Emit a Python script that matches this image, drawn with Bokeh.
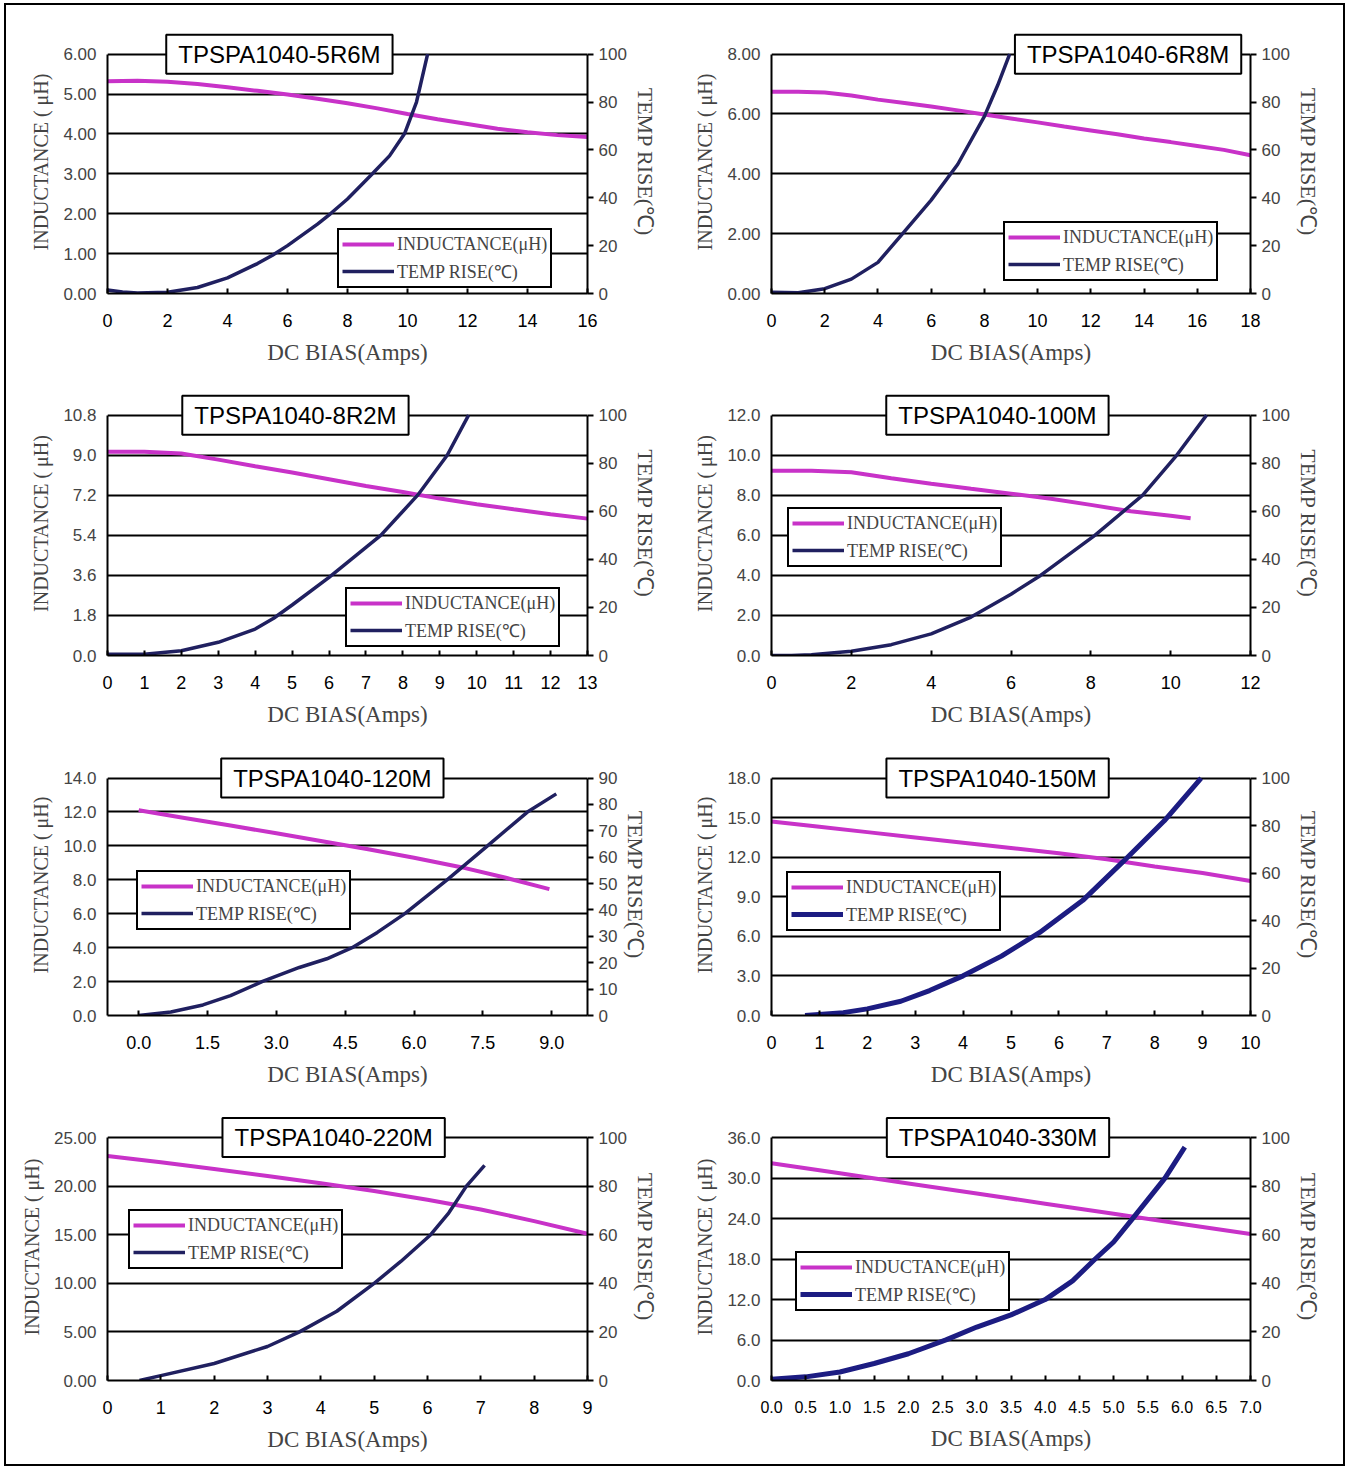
from bokeh.plotting import figure
from bokeh.models import (Range1d, LinearAxis, FixedTicker, PrintfTickFormatter,
                          Label, Legend, LegendItem)
from bokeh.layouts import gridplot, column
from bokeh.embed import file_html
from bokeh.resources import INLINE

# ---------------- data ----------------
part_names = ["TPSPA1040-5R6M", "TPSPA1040-6R8M", "TPSPA1040-8R2M", "TPSPA1040-100M",
              "TPSPA1040-120M", "TPSPA1040-150M", "TPSPA1040-220M", "TPSPA1040-330M"]

# 5R6M
p1_x_ticks = [0, 2, 4, 6, 8, 10, 12, 14, 16]
p1_l_ticks = [0, 1, 2, 3, 4, 5, 6]
p1_t_ticks = [0, 20, 40, 60, 80, 100]
p1_ind_x = [0, 1, 2, 3, 4, 5, 6, 7, 8, 9, 10, 11, 12, 13, 14, 15, 16]
p1_ind = [5.32, 5.33, 5.31, 5.25, 5.17, 5.08, 4.99, 4.88, 4.77, 4.64, 4.50, 4.37, 4.25, 4.13, 4.04, 3.97, 3.92]
p1_temp_x = [0, 0.5, 1, 2, 3, 4, 5, 5.5, 6, 7, 7.43, 8, 8.83, 9.4, 9.9, 10.3, 10.67]
p1_temp = [1.5, 0.6, 0.2, 0.5, 2.5, 6.5, 12.5, 16, 20, 29, 33.3, 39.5, 50, 57.5, 66.7, 80, 100]

# 6R8M
p2_x_ticks = [0, 2, 4, 6, 8, 10, 12, 14, 16, 18]
p2_l_ticks = [0, 2, 4, 6, 8]
p2_t_ticks = [0, 20, 40, 60, 80, 100]
p2_ind_x = [0, 1, 2, 3, 4, 5, 6, 7, 8, 9, 10, 11, 12, 13, 14, 15, 16, 17, 18]
p2_ind = [6.74, 6.74, 6.72, 6.62, 6.48, 6.37, 6.25, 6.12, 5.98, 5.85, 5.72, 5.58, 5.45, 5.32, 5.18, 5.06, 4.93, 4.80, 4.62]
p2_temp_x = [0, 1, 2, 3, 4, 5, 6, 7, 8, 8.5, 8.95]
p2_temp = [0.5, 0.3, 2, 6, 13, 26, 39, 54, 74, 87, 100]

# 8R2M
p3_x_ticks = [0, 1, 2, 3, 4, 5, 6, 7, 8, 9, 10, 11, 12, 13]
p3_l_ticks = [0, 1.8, 3.6, 5.4, 7.2, 9.0, 10.8]
p3_t_ticks = [0, 20, 40, 60, 80, 100]
p3_ind_x = [0, 1, 2, 3, 4, 5, 6, 7, 8, 9, 10, 11, 12, 13]
p3_ind = [9.15, 9.15, 9.08, 8.80, 8.50, 8.22, 7.92, 7.62, 7.35, 7.05, 6.80, 6.57, 6.35, 6.15]
p3_temp_x = [0, 1, 2, 3, 4, 4.5, 5, 6, 7, 7.4, 8, 8.4, 9.2, 9.78]
p3_temp = [0.5, 0.5, 2, 5.5, 11, 15.5, 21, 32.5, 45, 50, 60, 66.7, 83.3, 100]

# 100M
p4_x_ticks = [0, 2, 4, 6, 8, 10, 12]
p4_l_ticks = [0, 2, 4, 6, 8, 10, 12]
p4_t_ticks = [0, 20, 40, 60, 80, 100]
p4_ind_x = [0, 1, 2, 3, 4, 5, 6, 7, 8, 9, 10, 10.5]
p4_ind = [9.22, 9.22, 9.15, 8.85, 8.57, 8.32, 8.08, 7.83, 7.52, 7.20, 6.98, 6.85]
p4_temp_x = [0, 0.5, 1, 2, 3, 4, 5, 6, 6.74, 8.1, 9.3, 10.15, 10.9]
p4_temp = [0, 0, 0.3, 1.8, 4.5, 9, 16, 25.5, 33.3, 50, 66.7, 83.3, 100]

# 120M
p5_x_ticks = [0, 1.5, 3.0, 4.5, 6.0, 7.5, 9.0]
p5_l_ticks = [0, 2, 4, 6, 8, 10, 12, 14]
p5_t_ticks = [0, 10, 20, 30, 40, 50, 60, 70, 80, 90]
p5_ind_x = [0, 1, 2, 3, 4, 5, 6, 7, 8, 8.95]
p5_ind = [12.1, 11.65, 11.2, 10.74, 10.27, 9.8, 9.3, 8.76, 8.12, 7.45]
p5_temp_x = [0, 0.7, 1.4, 2.0, 2.7, 3.5, 4.1, 4.65, 5.2, 5.8, 6.72, 7.6, 8.47, 9.1]
p5_temp = [0, 1.3, 4.0, 7.5, 12.9, 18.2, 21.5, 25.7, 31.5, 38.6, 51.4, 64.3, 77.1, 84]

# 150M
p6_x_ticks = [0, 1, 2, 3, 4, 5, 6, 7, 8, 9, 10]
p6_l_ticks = [0, 3, 6, 9, 12, 15, 18]
p6_t_ticks = [0, 20, 40, 60, 80, 100]
p6_ind_x = [0, 1, 2, 3, 4, 5, 6, 7, 8, 9, 10]
p6_ind = [14.7, 14.3, 13.9, 13.5, 13.1, 12.7, 12.3, 11.85, 11.3, 10.8, 10.2]
p6_temp_x = [0.7, 1.5, 2.0, 2.7, 3.3, 4.0, 4.8, 5.6, 6.5, 7.35, 8.2, 8.97]
p6_temp = [0, 1.2, 2.8, 6, 10.5, 16.7, 25, 35, 48.5, 65, 82, 100]

# 220M
p7_x_ticks = [0, 1, 2, 3, 4, 5, 6, 7, 8, 9]
p7_l_ticks = [0, 5, 10, 15, 20, 25]
p7_t_ticks = [0, 20, 40, 60, 80, 100]
p7_ind_x = [0, 1, 2, 3, 4, 5, 6, 7, 8, 9]
p7_ind = [23.1, 22.45, 21.75, 21.05, 20.3, 19.5, 18.6, 17.6, 16.4, 15.1]
p7_temp_x = [0.6, 1.0, 2.0, 3.0, 3.6, 4.3, 5.0, 5.5, 6.06, 6.4, 6.73, 7.07]
p7_temp = [0, 2, 7, 14, 20, 28.5, 40, 49, 60, 69, 80, 88.5]

# 330M
p8_x_ticks = [0, 0.5, 1.0, 1.5, 2.0, 2.5, 3.0, 3.5, 4.0, 4.5, 5.0, 5.5, 6.0, 6.5, 7.0]
p8_l_ticks = [0, 6, 12, 18, 24, 30, 36]
p8_t_ticks = [0, 20, 40, 60, 80, 100]
p8_ind_x = [0, 1, 2, 3, 4, 5, 6, 7]
p8_ind = [32.2, 30.7, 29.2, 27.7, 26.2, 24.7, 23.2, 21.7]
p8_temp_x = [0, 0.5, 1.0, 1.5, 2.0, 2.55, 3.0, 3.5, 4.0, 4.4, 4.73, 5.0, 5.28, 5.75, 6.04]
p8_temp = [0.5, 1.5, 3.5, 7, 11, 16.7, 22, 27, 33.3, 41, 50, 57, 66.7, 83.3, 96]

series = [
    (p1_x_ticks, p1_l_ticks, p1_t_ticks, p1_ind_x, p1_ind, p1_temp_x, p1_temp),
    (p2_x_ticks, p2_l_ticks, p2_t_ticks, p2_ind_x, p2_ind, p2_temp_x, p2_temp),
    (p3_x_ticks, p3_l_ticks, p3_t_ticks, p3_ind_x, p3_ind, p3_temp_x, p3_temp),
    (p4_x_ticks, p4_l_ticks, p4_t_ticks, p4_ind_x, p4_ind, p4_temp_x, p4_temp),
    (p5_x_ticks, p5_l_ticks, p5_t_ticks, p5_ind_x, p5_ind, p5_temp_x, p5_temp),
    (p6_x_ticks, p6_l_ticks, p6_t_ticks, p6_ind_x, p6_ind, p6_temp_x, p6_temp),
    (p7_x_ticks, p7_l_ticks, p7_t_ticks, p7_ind_x, p7_ind, p7_temp_x, p7_temp),
    (p8_x_ticks, p8_l_ticks, p8_t_ticks, p8_ind_x, p8_ind, p8_temp_x, p8_temp),
]

# ---------------- layout / style config ----------------
x_ranges = [(0, 16), (0, 18), (0, 13), (0, 12), (-0.68, 9.78), (0, 10), (0, 9), (0, 7)]
x_fmt = ["%d", "%d", "%d", "%d", "%.1f", "%d", "%d", "%.1f"]
l_fmt = ["%.2f", "%.2f", "%.1f", "%.1f", "%.1f", "%.1f", "%.2f", "%.1f"]
title_x = [5.73, 13.4, 5.09, 5.66, 4.22, 4.72, 4.24, 3.31]
legend_loc = [(230, 5), (232, 12), (238, 8), (16, 88), (29, 85), (15, 84), (21, 111), (24, 69)]
row_h = [362, 362, 360, 375]
row_top = [49, 48, 49, 48]          # distance from figure top to the top grid line
col_w = [664, 673]
col_left = [101, 101]
col_right = [83, 93]
frame_h = [243, 244, 242, 243]      # height of the 0..max area
EXT = 24                            # extra frame space above the top line for the title box
navy = ["#202060", "#202060", "#202060", "#202060", "#202060", "#1c1c82", "#202060", "#1c1c82"]
navy_w = [3.5, 3.5, 3.5, 3.5, 3.5, 5, 3.5, 5]

MAGENTA = "#C832C8"
TICK_FONT = "Liberation Sans"
SERIF = "Liberation Serif"

figs = []
for i in range(8):
    r, c = divmod(i, 2)
    xt, lt, tt, ix, iv, tx, tv = series[i]
    w = col_w[c]
    h = row_h[r]
    fac = (frame_h[r] + EXT) / frame_h[r]
    p = figure(width=w, height=h, output_backend="svg", toolbar_location=None, tools="",
               x_range=Range1d(*x_ranges[i]), y_range=Range1d(lt[0], lt[-1] * fac),
               min_border_left=col_left[c], min_border_right=col_right[c],
               min_border_top=row_top[r] - EXT, min_border_bottom=h - row_top[r] - frame_h[r])
    p.extra_y_ranges = {"t": Range1d(tt[0], tt[-1] * fac)}
    p.outline_line_color = None
    p.background_fill_color = "white"
    p.border_fill_color = "white"

    # grid
    p.xgrid.visible = False
    p.ygrid.ticker = FixedTicker(ticks=lt)
    p.ygrid.grid_line_color = "black"
    p.ygrid.grid_line_width = 2

    # x axis
    xa = p.xaxis[0]
    xa.ticker = FixedTicker(ticks=xt)
    xa.formatter = PrintfTickFormatter(format=x_fmt[i])
    xa.axis_label = "DC BIAS(Amps)"
    xa.axis_label_text_font = SERIF
    xa.axis_label_text_font_style = "normal"
    xa.axis_label_text_font_size = "23px"
    xa.axis_label_standoff = 10
    xa.major_label_text_font = TICK_FONT
    xa.major_label_text_font_size = "16px" if i == 7 else "18px"
    xa.major_label_standoff = 20
    xa.major_tick_in = 5
    xa.major_tick_out = 0
    xa.minor_tick_line_color = None
    xa.axis_line_width = 2
    xa.major_tick_line_width = 2
    xa.axis_line_color = "black"
    xa.major_label_text_color = "black"

    # left axis
    ya = p.yaxis[0]
    ya.ticker = FixedTicker(ticks=lt)
    ya.bounds = (lt[0], lt[-1])
    ya.formatter = PrintfTickFormatter(format=l_fmt[i])
    ya.axis_label = "INDUCTANCE ( μH)"
    ya.axis_label_text_font = SERIF
    ya.axis_label_text_font_style = "normal"
    ya.axis_label_text_font_size = "20px"
    ya.axis_label_standoff = 8
    ya.major_label_text_font = TICK_FONT
    ya.major_label_text_font_size = "17px"
    ya.major_label_standoff = 11
    ya.major_tick_in = 0
    ya.major_tick_out = 0
    ya.minor_tick_line_color = None
    ya.axis_line_width = 2
    ya.axis_line_color = "black"

    # right axis
    ra = LinearAxis(y_range_name="t", ticker=FixedTicker(ticks=tt), bounds=(tt[0], tt[-1]))
    ra.axis_label = "TEMP RISE(℃)"
    ra.axis_label_text_font = SERIF
    ra.axis_label_text_font_style = "normal"
    ra.axis_label_text_font_size = "22px"
    ra.axis_label_standoff = 3
    ra.major_label_text_font = TICK_FONT
    ra.major_label_text_font_size = "17px"
    ra.major_label_standoff = 5
    ra.major_tick_in = 0
    ra.major_tick_out = 6
    ra.major_tick_line_width = 2
    ra.minor_tick_line_color = None
    ra.axis_line_width = 2
    ra.axis_line_color = "black"
    p.add_layout(ra, "right")

    # curves
    rl = p.line(ix, iv, line_color=MAGENTA, line_width=4)
    rt = p.line(tx, tv, line_color=navy[i], line_width=navy_w[i], y_range_name="t")

    # title box
    lab = Label(x=title_x[i], y=lt[-1], text=part_names[i], text_font="Liberation Sans",
                text_font_size="24px", text_align="center", text_baseline="middle",
                text_color="black", background_fill_color="white", border_line_color="black",
                border_line_width=2, padding=(12, 6))
    p.add_layout(lab)

    # legend
    leg = Legend(items=[LegendItem(label="INDUCTANCE(μH)", renderers=[rl]),
                        LegendItem(label="TEMP RISE(℃)", renderers=[rt])],
                 location=legend_loc[i], orientation="vertical")
    leg.label_text_font = SERIF
    leg.label_text_font_size = "18px"
    leg.border_line_color = "black"
    leg.border_line_alpha = 1
    leg.border_line_width = 2
    leg.background_fill_color = "white"
    leg.background_fill_alpha = 1
    leg.glyph_width = 52
    leg.glyph_height = 22
    leg.label_height = 22
    leg.label_standoff = 3
    leg.padding = 3
    leg.spacing = 4
    leg.margin = 0
    p.add_layout(leg)

    figs.append(p)

grid = gridplot([[figs[0], figs[1]], [figs[2], figs[3]], [figs[4], figs[5]], [figs[6], figs[7]]],
                toolbar_location=None)
page = column(grid, margin=(3, 0, 0, 4), styles={"border": "2px solid black"})

open("out.html", "w").write(file_html(page, INLINE))
